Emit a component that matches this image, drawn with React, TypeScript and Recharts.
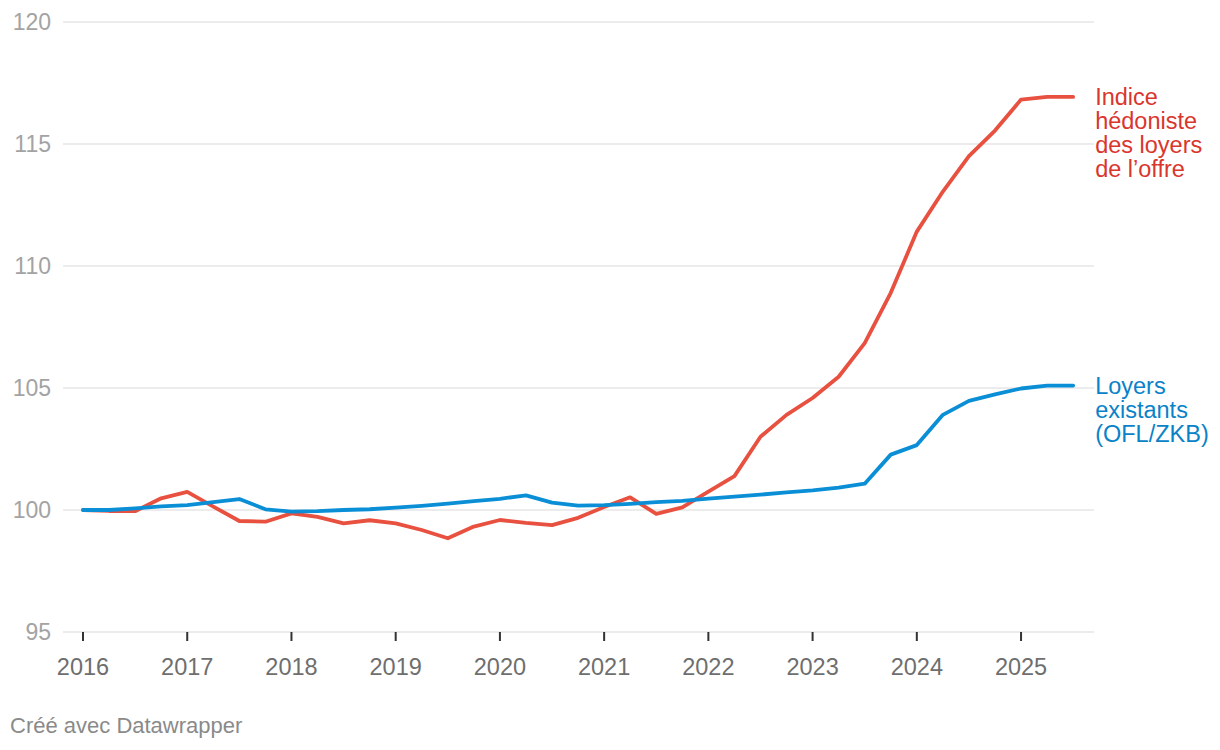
import React from 'react';
import { LineChart, Line, XAxis, YAxis, CartesianGrid } from 'recharts';

const quarters: number[] = [
  2016, 2016.25, 2016.5, 2016.75, 2017, 2017.25, 2017.5, 2017.75,
  2018, 2018.25, 2018.5, 2018.75, 2019, 2019.25, 2019.5, 2019.75,
  2020, 2020.25, 2020.5, 2020.75, 2021, 2021.25, 2021.5, 2021.75,
  2022, 2022.25, 2022.5, 2022.75, 2023, 2023.25, 2023.5, 2023.75,
  2024, 2024.25, 2024.5, 2024.75, 2025, 2025.25, 2025.5,
];

const hedonicOffer: number[] = [
  100, 99.96, 99.95, 100.48, 100.74, 100.14, 99.55, 99.52,
  99.86, 99.72, 99.45, 99.58, 99.45, 99.18, 98.84, 99.32,
  99.59, 99.47, 99.38, 99.68, 100.12, 100.52, 99.84, 100.11,
  100.75, 101.39, 103.0, 103.9, 104.59, 105.46, 106.84, 108.9,
  111.41, 113.05, 114.5, 115.55, 116.82, 116.93, 116.93,
];

const existingRents: number[] = [
  100, 100.0, 100.07, 100.15, 100.2, 100.32, 100.45, 100.03,
  99.93, 99.95, 100.0, 100.03, 100.1, 100.17, 100.26, 100.36,
  100.46, 100.6, 100.3, 100.18, 100.2, 100.25, 100.32, 100.37,
  100.47, 100.55, 100.63, 100.72, 100.8, 100.92, 101.08, 102.27,
  102.66, 103.9, 104.47, 104.74, 104.98, 105.1, 105.1,
];

const xTicks: number[] = [2016, 2017, 2018, 2019, 2020, 2021, 2022, 2023, 2024, 2025];
const yTicks: number[] = [95, 100, 105, 110, 115, 120];

const redLabel: string[] = ['Indice', 'hédoniste', 'des loyers', 'de l’offre'];
const blueLabel: string[] = ['Loyers', 'existants', '(OFL/ZKB)'];

const data = quarters.map((q, i) => ({
  date: q,
  offer: hedonicOffer[i],
  existing: existingRents[i],
}));

const lastIndex = quarters.length - 1;
const FONT = '"Liberation Sans", Arial, Helvetica, sans-serif';

const makeLabel = (lines: string[], color: string) => (props: any) => {
  const { x, y, index } = props;
  if (index !== lastIndex) return <g />;
  const tx = Number(x) + 22;
  return (
    <text x={tx} y={Number(y)} fill={color} fontSize={23.5} fontFamily={FONT}>
      {lines.map((l, i) => (
        <tspan key={i} x={tx} dy={i === 0 ? '0.36em' : 24}>
          {l}
        </tspan>
      ))}
    </text>
  );
};

export default function App() {
  return (
    <div
      style={{
        position: 'absolute',
        left: 0,
        top: 0,
        width: 1220,
        height: 750,
        background: '#ffffff',
        fontFamily: FONT,
      }}
    >
      <LineChart
        width={1220}
        height={700}
        data={data}
        margin={{ top: 22, right: 126, bottom: 28, left: 0 }}
      >
        <CartesianGrid vertical={false} stroke="#e6e6e6" strokeWidth={1.5} />
        <XAxis
          dataKey="date"
          type="number"
          domain={[2015.808, 2025.7]}
          ticks={xTicks}
          allowDataOverflow
          axisLine={false}
          tickLine={{ stroke: '#333333', strokeWidth: 2 }}
          tickSize={9}
          tickMargin={17}
          height={40}
          tick={{ fill: '#6e6e6e', fontSize: 23.5, fontFamily: FONT }}
          tickFormatter={(v: number) => String(v)}
        />
        <YAxis
          type="number"
          domain={[95, 120]}
          ticks={yTicks}
          axisLine={false}
          tickLine={false}
          tickSize={0}
          tickMargin={12}
          width={63}
          tick={{ fill: '#a3a3a3', fontSize: 23, fontFamily: FONT }}
        />
        <Line
          dataKey="offer"
          stroke="#e8503f"
          strokeWidth={3.8}
          dot={false}
          activeDot={false}
          isAnimationActive={false}
          strokeLinejoin="round"
          strokeLinecap="round"
          label={makeLabel(redLabel, '#d9362d')}
        />
        <Line
          dataKey="existing"
          stroke="#0a8fd6"
          strokeWidth={3.8}
          dot={false}
          activeDot={false}
          isAnimationActive={false}
          strokeLinejoin="round"
          strokeLinecap="round"
          label={makeLabel(blueLabel, '#0a82c8')}
        />
      </LineChart>
      <div
        style={{
          position: 'absolute',
          left: 10,
          top: 714,
          fontSize: 22,
          lineHeight: '24px',
          color: '#8a8a8a',
          fontFamily: FONT,
        }}
      >
        Créé avec Datawrapper
      </div>
    </div>
  );
}
